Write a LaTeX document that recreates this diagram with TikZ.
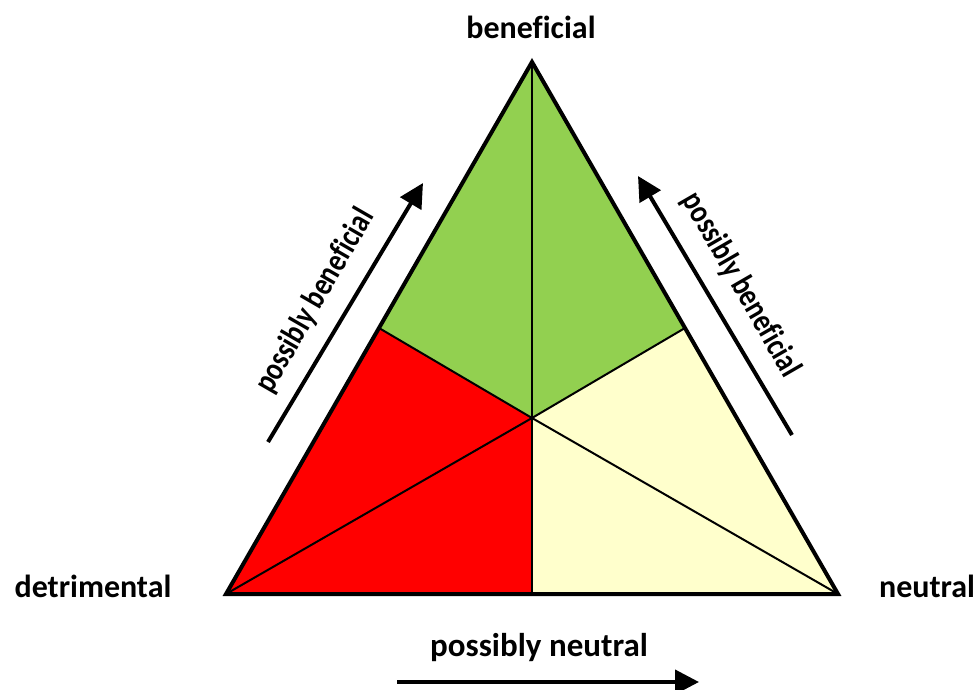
\documentclass[tikz,border=0pt]{standalone}
\usepackage{fontspec}
\setmainfont[Ligatures=CommonOff]{Carlito}
\usepackage{tikz}
\usetikzlibrary{arrows.meta,positioning,calc}
\definecolor{BeneficialGreen}{HTML}{92D050}
\definecolor{DetrimentalRed}{HTML}{FF0000}
\definecolor{NeutralYellow}{HTML}{FFFFCC}
\tikzstyle{CornerLabel} =[font=\fontsize{32}{38}\selectfont\bfseries,inner sep=0pt]
\tikzstyle{TrendLabel} =[font=\fontsize{33}{38}\selectfont\bfseries,inner sep=0pt]
\tikzstyle{TrendArrow} =[line width=4pt,-{Triangle[length=24pt,width=24pt]}]
\tikzstyle{Divider} =[line width=2pt]

\begin{document}
\begin{tikzpicture}[x=1pt,y=-1pt]
    \useasboundingbox (0,0) rectangle (978,690);
    \coordinate (Beneficial-Corner) at (532,62);
    \coordinate (Detrimental-Corner) at (226,594);
    \coordinate (Neutral-Corner) at (838,594);
    \coordinate (Center) at (532,418);
    \coordinate (Left-Mid) at ($(Beneficial-Corner)!0.5!(Detrimental-Corner)$);
    \coordinate (Right-Mid) at ($(Beneficial-Corner)!0.5!(Neutral-Corner)$);
    \coordinate (Bottom-Mid) at ($(Detrimental-Corner)!0.5!(Neutral-Corner)$);

    % coloured sectors
    \fill[BeneficialGreen] (Beneficial-Corner) -- (Left-Mid) -- (Center) -- (Right-Mid) -- cycle;
    \fill[DetrimentalRed] (Left-Mid) -- (Detrimental-Corner) -- (Bottom-Mid) -- (Center) -- cycle;
    \fill[NeutralYellow] (Right-Mid) -- (Center) -- (Bottom-Mid) -- (Neutral-Corner) -- cycle;

    % dividing lines
    \foreach \corner in {Beneficial-Corner,Detrimental-Corner,Neutral-Corner,Left-Mid,Right-Mid,Bottom-Mid}
        \draw[Divider] (Center) -- (\corner);
    \draw[line width=4pt,line join=miter] (Beneficial-Corner) -- (Detrimental-Corner) -- (Neutral-Corner) -- cycle;

    % corner labels
    \node[CornerLabel] (Beneficial-Label) at (531,27) {beneficial};
    \node[CornerLabel] (Detrimental-Label) at (93,586) {detrimental};
    \node[CornerLabel] (Neutral-Label) at (927,586) {neutral};

    % trend arrows
    \coordinate (Left-Tail) at (268,442);
    \coordinate (Left-Tip) at (423,183);
    \coordinate (Right-Tail) at (792,435);
    \coordinate (Right-Tip) at (638,176);
    \coordinate (Bottom-Tail) at (397,682);
    \coordinate (Bottom-Tip) at (699,682);
    \draw[TrendArrow] (Left-Tail) -- (Left-Tip);
    \draw[TrendArrow] (Right-Tail) -- (Right-Tip);
    \draw[TrendArrow] (Bottom-Tail) -- (Bottom-Tip);
    \node[TrendLabel,rotate=60,xscale=0.82] (Left-Trend-Label) at (315,301) {possibly beneficial};
    \node[TrendLabel,rotate=-60,xscale=0.82] (Right-Trend-Label) at (741,285) {possibly beneficial};
    \node[TrendLabel] (Bottom-Trend-Label) at (539,648) {possibly neutral};
\end{tikzpicture}
\end{document}
